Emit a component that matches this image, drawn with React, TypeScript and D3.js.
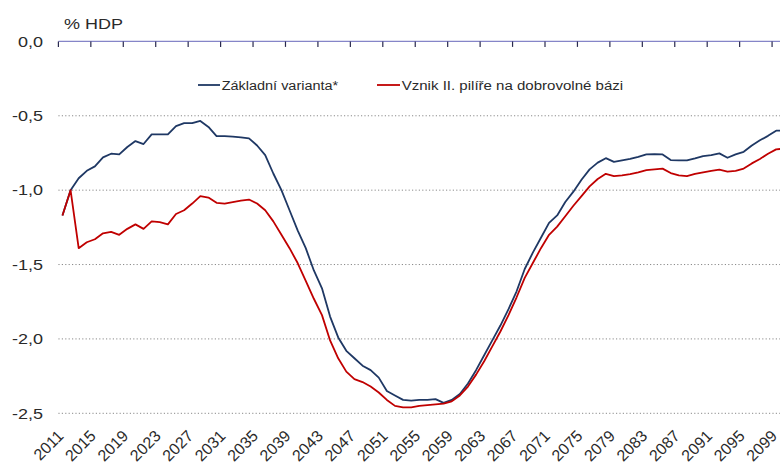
import React from "react";
import * as d3 from "d3";

const years: number[] = d3.range(2011, 2101);

const baseVariant: number[] = [
  -1.17, -1.0, -0.92, -0.87, -0.84, -0.78, -0.755, -0.76, -0.71, -0.67,
  -0.69, -0.625, -0.625, -0.625, -0.57, -0.55, -0.55, -0.535, -0.575, -0.637,
  -0.637, -0.64, -0.645, -0.652, -0.7, -0.764, -0.888, -1.0, -1.135, -1.27,
  -1.39, -1.54, -1.66, -1.85, -1.99, -2.08, -2.13, -2.18, -2.21, -2.26,
  -2.35, -2.38, -2.41, -2.415, -2.41, -2.41, -2.405, -2.43, -2.41, -2.37,
  -2.3, -2.21, -2.11, -2.01, -1.91, -1.8, -1.68, -1.53, -1.42, -1.32,
  -1.22, -1.17, -1.08, -1.01, -0.93, -0.86, -0.815, -0.785, -0.81, -0.8,
  -0.79, -0.776, -0.76, -0.758, -0.76, -0.798, -0.8, -0.8, -0.787, -0.771,
  -0.765, -0.753, -0.782, -0.76, -0.742, -0.7, -0.665, -0.635, -0.6, -0.6,
];

const voluntaryPillar: number[] = [
  -1.17, -1.0, -1.39, -1.35, -1.33, -1.29, -1.28, -1.3, -1.26, -1.23,
  -1.26, -1.21, -1.215, -1.23, -1.16, -1.135, -1.09, -1.04, -1.05, -1.085,
  -1.09, -1.08, -1.07, -1.063, -1.09, -1.135, -1.21, -1.3, -1.39, -1.49,
  -1.61, -1.73, -1.84, -2.01, -2.13, -2.22, -2.27, -2.29, -2.32, -2.36,
  -2.41, -2.45, -2.46, -2.46, -2.45, -2.445, -2.44, -2.435, -2.42, -2.38,
  -2.32, -2.24, -2.15, -2.05, -1.95, -1.84, -1.72, -1.59, -1.49, -1.39,
  -1.3, -1.245, -1.175, -1.105, -1.04, -0.975, -0.925, -0.89, -0.905, -0.9,
  -0.892, -0.88, -0.865, -0.86, -0.855, -0.885, -0.9, -0.905, -0.89, -0.88,
  -0.87, -0.862, -0.875, -0.87, -0.855, -0.82, -0.79, -0.755, -0.726, -0.72,
];

const yTicks: number[] = [0, -0.5, -1.0, -1.5, -2.0, -2.5];
const labelYears: number[] = d3.range(2011, 2100, 4);
const seriesNames: string[] = ["Základní varianta*", "Vznik II. pilíře na dobrovolné bázi"];
const seriesColors: string[] = ["#1f3864", "#c00000"];

const W = 780;
const H = 463;
const FONT = "'Liberation Sans', Arial, sans-serif";

export default function App() {
  const x = d3.scaleBand<number>().domain(years).range([58.4, 58.4 + 90 * 8.11]).padding(0);
  const y = d3.scaleLinear().domain([-2.5, 0]).range([413.3, 41.4]);
  const cx = (yr: number) => (x(yr) as number) + x.bandwidth() / 2;
  const fmt = (v: number) => d3.format(".1f")(v).replace(".", ",").replace("−", "-");

  const line = d3
    .line<number>()
    .x((_, i) => cx(years[i]))
    .y((d) => y(d));

  const series = [baseVariant, voluntaryPillar];

  return (
    <svg
      width={W}
      height={H}
      style={{ position: "absolute", left: 0, top: 0, background: "#fff" }}
      fontFamily={FONT}
    >
      <rect width={W} height={H} fill="#fff" />
      {yTicks
        .filter((t) => t !== 0)
        .map((t) => (
          <line
            key={"g" + t}
            x1={58.4}
            x2={W}
            y1={y(t)}
            y2={y(t)}
            stroke="#8a8a8a"
            strokeWidth={1}
            strokeDasharray="1.2,2.2"
          />
        ))}
      {yTicks.map((t) => (
        <text
          key={"yl" + t}
          transform={`translate(43,${y(t) + 5.3}) scale(1.2,1)`}
          textAnchor="end"
          fontSize={15}
          fill="#2a2a2a"
        >
          {fmt(t)}
        </text>
      ))}
      <text transform="translate(64,29) scale(1.2,1)" fontSize={15} fill="#2a2a2a">
        % HDP
      </text>
      <line x1={58.4} x2={W} y1={y(0)} y2={y(0)} stroke="#8585c8" strokeWidth={1.3} />
      {d3.range(0, 91, 4).map((i) => {
        const px = 58.4 + i * x.step();
        return (
          <line key={"t" + i} x1={px} x2={px} y1={y(0)} y2={y(0) + 5.5} stroke="#2a2a50" strokeWidth={1.2} />
        );
      })}
      {labelYears.map((yr) => (
        <text
          key={"xl" + yr}
          transform={`translate(${cx(yr) + 2},437) rotate(-45)`}
          textAnchor="end"
          fontSize={16}
          fill="#2a2a2a"
        >
          {yr}
        </text>
      ))}
      {series.map((s, k) => (
        <path
          key={"s" + k}
          d={line(s) as string}
          fill="none"
          stroke={seriesColors[k]}
          strokeWidth={1.8}
          strokeLinejoin="round"
        />
      ))}
      <line x1={198} x2={220} y1={85} y2={85} stroke={seriesColors[0]} strokeWidth={1.8} />
      <text
        x={221.7}
        y={89.5}
        fontSize={12.5}
        fill="#2a2a2a"
        textLength={116.5}
        lengthAdjust="spacingAndGlyphs"
      >
        {seriesNames[0]}
      </text>
      <line x1={377} x2={400} y1={85} y2={85} stroke={seriesColors[1]} strokeWidth={1.8} />
      <text
        x={401.7}
        y={89.5}
        fontSize={12.5}
        fill="#2a2a2a"
        textLength={221.5}
        lengthAdjust="spacingAndGlyphs"
      >
        {seriesNames[1]}
      </text>
    </svg>
  );
}
